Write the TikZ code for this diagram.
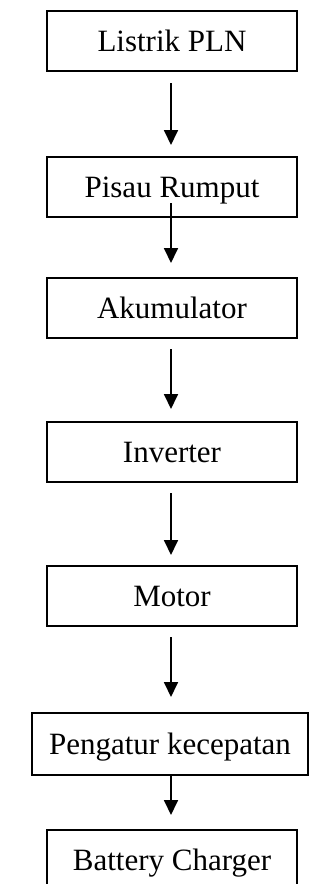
\documentclass[tikz,border=0pt]{standalone}
\usepackage{fontspec}
\setmainfont{Liberation Serif}
\usetikzlibrary{arrows.meta}
\begin{document}
\begin{tikzpicture}[x=1pt,y=-1pt,
  box/.style={draw, line width=1.6pt, minimum width=250pt, minimum height=60pt, inner sep=0pt,
    text height=20.5pt, text depth=0pt, font=\fontsize{31}{34}\selectfont},
  arr/.style={-{Triangle[length=15pt,width=14pt]}, line width=1.8pt}]
\useasboundingbox (0,0) rectangle (334,884);
\node[box] (b1) at (172,41) {Listrik PLN};
\node[box] (b2) at (172,187) {Pisau Rumput};
\node[box] (b3) at (172,308) {Akumulator};
\node[box] (b4) at (172,452) {Inverter};
\node[box] (b5) at (172,596) {Motor};
\node[box, minimum width=276pt, minimum height=62pt] (b6) at (170,744) {Pengatur kecepatan};
\node[box] (b7) at (172,860) {Battery Charger};
\coordinate (a1s) at (171,83);  \coordinate (a1e) at (171,145);
\coordinate (a2s) at (171,203); \coordinate (a2e) at (171,263);
\coordinate (a3s) at (171,349); \coordinate (a3e) at (171,409);
\coordinate (a4s) at (171,493); \coordinate (a4e) at (171,555);
\coordinate (a5s) at (171,637); \coordinate (a5e) at (171,697);
\coordinate (a6s) at (171,775); \coordinate (a6e) at (171,815);
\draw[arr] (a1s) -- (a1e);
\draw[arr] (a2s) -- (a2e);
\draw[arr] (a3s) -- (a3e);
\draw[arr] (a4s) -- (a4e);
\draw[arr] (a5s) -- (a5e);
\draw[arr] (a6s) -- (a6e);
\end{tikzpicture}
\end{document}
